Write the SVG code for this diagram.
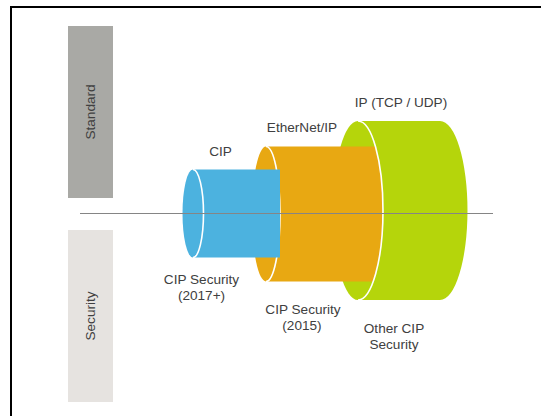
<svg xmlns="http://www.w3.org/2000/svg" width="541" height="416" viewBox="0 0 541 416">
<style>
.t{font-family:"Liberation Sans",Arial,sans-serif;font-size:13.6px;fill:#404040;text-anchor:middle}
.rim{fill:none;stroke:#ffffff;stroke-width:1.6}
.blue{fill:#4cb2df}
.orange{fill:#e8a812}
.green{fill:#b5d50b}
</style>
<rect x="0" y="0" width="541" height="416" fill="#ffffff"/>
<path d="M11,416 V7 H541" fill="none" stroke="#000" stroke-width="2"/>
<g id="standard">
<rect x="68" y="26" width="45" height="172" fill="#a9a9a5"/>
<text class="t" transform="translate(95,112) rotate(-90)">Standard</text>
</g>
<g id="security">
<rect x="68" y="230" width="45" height="172" fill="#e6e3e0"/>
<text class="t" transform="translate(95,316) rotate(-90)">Security</text>
</g>
<g id="ip">
<path class="green" d="M358,121 H440 A27.5,89.5 0 0 1 440,300 H358 Z"/>
<ellipse class="green" cx="358" cy="210.5" rx="25" ry="89.5"/>
<text class="t" x="401" y="106.5">IP (TCP / UDP)</text>
<text class="t" x="394" y="333">Other CIP</text>
<text class="t" x="394" y="349">Security</text>
</g>
<g id="ethernetip">
<path class="orange" d="M266,146.5 H375.5 A25,89.5 0 0 1 373.2,281.5 H266 Z"/>
<ellipse class="orange" cx="266" cy="214" rx="14" ry="67.5"/>
<path class="rim" d="M358,121 A25,89.5 0 0 1 358,300"/>
<path class="rim" d="M266,146.5 A14,67.5 0 0 1 266,281.5"/>
<text class="t" x="302" y="131.5">EtherNet/IP</text>
<text class="t" x="303" y="314">CIP Security</text>
<text class="t" x="302" y="330">(2015)</text>
</g>
<g id="cip">
<rect class="blue" x="193" y="169.5" width="87" height="88"/>
<ellipse class="blue" cx="193" cy="213.5" rx="10.5" ry="44"/>
<path class="rim" d="M193,169.5 A10.5,44 0 0 1 193,257.5"/>
<text class="t" x="220.5" y="156">CIP</text>
<text class="t" x="201.5" y="283.5">CIP Security</text>
<text class="t" x="201.5" y="299.5">(2017+)</text>
</g>
<g id="connectors">
<line x1="80" y1="213.5" x2="493" y2="213.5" stroke="#858585" stroke-width="1"/>
</g>
</svg>
